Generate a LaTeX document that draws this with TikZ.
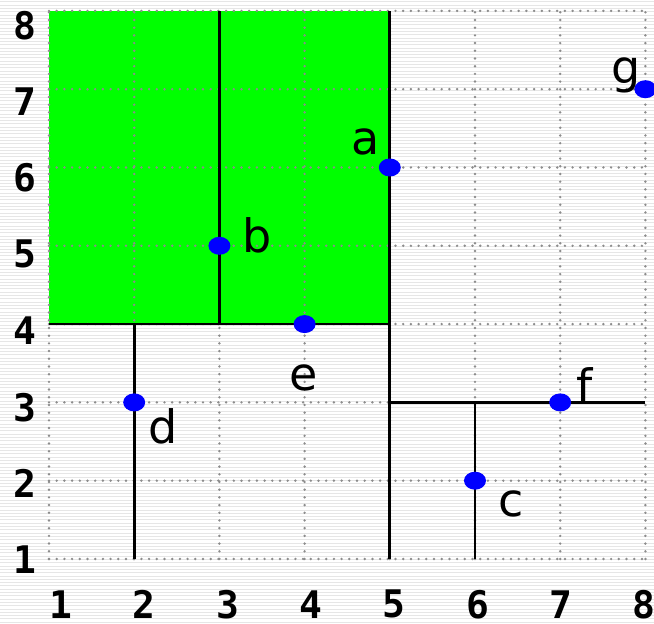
\documentclass[tikz,border=0pt]{standalone}
\usepackage{fontspec}
\setmainfont{DejaVu Sans}
\newfontfamily\ticksfont{DejaVu Sans Mono}
\usetikzlibrary{positioning, shapes.geometric}
\definecolor{regiongreen}{RGB}{0,255,0}
\definecolor{ptblue}{RGB}{0,0,255}
\definecolor{griddot}{RGB}{140,140,140}
\definecolor{stripegray}{RGB}{230,230,230}

\begin{document}
\begin{tikzpicture}[
    x=85.2pt, y=78.3pt,
    gridline/.style={griddot, line width=2.7pt, line cap=round, dash pattern=on 0pt off 7.7pt},
    cut/.style={black, line width=2.7pt},
    pnt/.style={ellipse, fill=ptblue, minimum width=22pt, minimum height=18pt, inner sep=0pt},
    lbl/.style={font=\fontsize{46}{46}\selectfont, anchor=base, inner sep=0pt},
    ticklbl/.style={font=\ticksfont\bfseries\fontsize{38}{38}\selectfont, inner sep=0pt}
  ]
    \useasboundingbox (36.2pt,13.3pt) rectangle ++(654pt,624pt);
    % faint ruled background
    \foreach \k in {0,...,188}
      \draw[stripegray, line width=1pt] ({36.2pt},{15pt+\k*3.3pt}) -- ++(654pt,0);

    \fill[regiongreen] (1,4) rectangle (5,8);

    \foreach \i in {1,...,8} {
      \draw[gridline] (\i,1) -- (\i,8);
      \draw[gridline] (1,\i) -- (8,\i);
    }

    % splitting lines
    \draw[cut] (5,1) -- (5,8);
    \draw[cut] (1,4) -- (5,4);
    \draw[cut] (3,4) -- (3,8);
    \draw[cut] (2,1) -- (2,4);
    \draw[cut] (5,3) -- (8,3);
    \draw[cut] (6,1) -- (6,3);

    \node[pnt] (a) at (5,6) {};
    \node[pnt] (b) at (3,5) {};
    \node[pnt] (c) at (6,2) {};
    \node[pnt] (d) at (2,3) {};
    \node[pnt] (e) at (4,4) {};
    \node[pnt] (f) at (7,3) {};
    \node[pnt] (g) at (8,7) {};

    \node[lbl] (la) at ([shift={(-23.8pt,12.5pt)}]a.center) {a};
    \node[lbl] (lb) at ([shift={(37.6pt,-7.2pt)}]b.center) {b};
    \node[lbl] (lc) at ([shift={(36.1pt,-35.4pt)}]c.center) {c};
    \node[lbl] (ld) at ([shift={(29pt,-40.7pt)}]d.center) {d};
    \node[lbl] (le) at ([shift={(-0.6pt,-66pt)}]e.center) {e};
    \node[lbl] (lf) at ([shift={(24pt,0pt)}]f.center) {f};
    \node[lbl] (lg) at ([shift={(-19.5pt,6pt)}]g.center) {g};

    % axis numbers
    \foreach \i in {1,...,8} {
      \node[ticklbl] (xl\i) at ({97.2pt+(\i-1)*83.3pt},33pt) {\i};
      \node[ticklbl] (yl\i) at (61.2pt,{77.3pt+(\i-1)*76.4pt}) {\i};
    }
  \end{tikzpicture}
\end{document}
